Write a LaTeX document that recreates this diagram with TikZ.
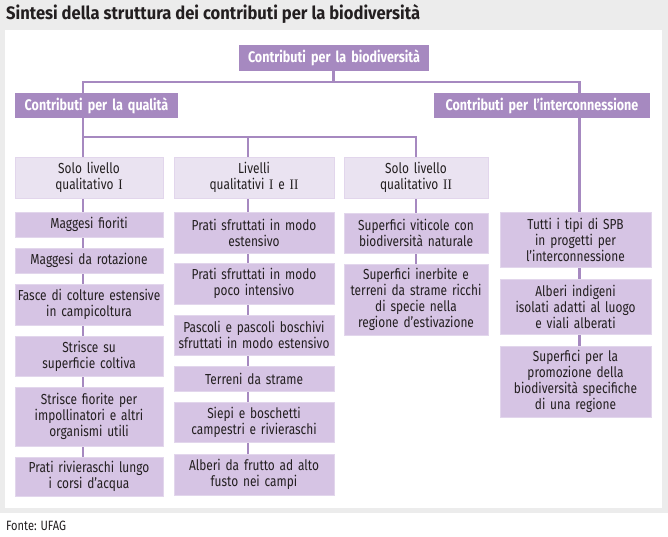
\documentclass[tikz,border=0pt]{standalone}
\usepackage{fontspec}
\setmainfont{Fira Sans}[FakeStretch=0.82]
\newfontfamily\titlefont{Fira Sans}[FakeStretch=0.92]
\newfontfamily\romnum{Liberation Serif}[FakeStretch=0.9]
\usetikzlibrary{positioning}
\definecolor{bggray}{HTML}{ECECEC}
\definecolor{dark}{HTML}{A689C0}
\definecolor{itemc}{HTML}{D6C4E4}
\definecolor{itemb}{HTML}{E2D6EC}
\definecolor{headc}{HTML}{EAE3F1}
\definecolor{txt}{HTML}{231F20}
\pgfdeclarelayer{back}
\pgfdeclarelayer{links}
\pgfsetlayers{back,links,main}
\newcommand\rn[1]{{\romnum #1}}
\newcommand\bx[7]{%
  \pgfmathsetmacro\bxc{(#3+#4)/2}%
  \pgfmathsetmacro\bxw{#4-#3}%
  \pgfmathsetmacro\bxh{#6-#5}%
  \pgfmathsetmacro\bxt{#4-#3-4}%
  \node[#1, anchor=north, minimum width=\bxw pt, minimum height=\bxh pt, text width=\bxt pt] (#2) at (\bxc,#5) {#7};%
}
\tikzset{
  boxbase/.style={rectangle, inner xsep=2pt, inner ysep=0pt, align=center, outer sep=0pt},
  mainbox/.style={boxbase, fill=dark, text=white, font=\fontsize{15.3}{17}\selectfont\bfseries},
  headbox/.style={boxbase, fill=headc, draw=itemb, line width=0.6pt, text=txt, font=\fontsize{14.5}{16}\selectfont},
  itembox/.style={boxbase, fill=itemc, draw=itemb, line width=0.6pt, text=txt, font=\fontsize{14.5}{16}\selectfont},
  conn/.style={draw=dark, line width=2.3pt},
}
\begin{document}
\begin{tikzpicture}[x=1pt,y=-1pt]
\useasboundingbox (0,0) rectangle (668,536);
\begin{pgfonlayer}{back}
  \fill[bggray] (0,0) rectangle (668,513);
  \fill[white] (5,30) rectangle (662,508);
\end{pgfonlayer}
\node[anchor=base west, inner sep=0pt, text=txt, font=\titlefont\fontsize{18}{20}\selectfont\bfseries] (title) at (6,19) {Sintesi della struttura dei contributi per la biodiversità};
\node[anchor=base west, inner sep=0pt, text=txt, font=\fontsize{13.5}{15}\selectfont] (src) at (6,530) {Fonte: UFAG};

% level 1 and 2
\bx{mainbox}{top}{239}{429}{45}{71}{Contributi per la biodiversità}
\bx{mainbox}{q}{15}{178}{93}{118}{Contributi per la qualità}
\bx{mainbox}{ic}{434}{650}{93}{118}{Contributi per l’interconnessione}

% column headers
\bx{headbox}{h1}{15}{163}{157}{198}{Solo livello\\qualitativo \rn{I}}
\bx{headbox}{h2}{174}{334}{157}{198}{Livelli\\qualitativi \rn{I} e \rn{II}}
\bx{headbox}{h3}{344}{488}{157}{198}{Solo livello\\qualitativo \rn{II}}

% column 1
\bx{itembox}{a1}{15}{163}{212}{237}{Maggesi fioriti}
\bx{itembox}{a2}{15}{163}{248}{273}{Maggesi da rotazione}
\bx{itembox}{a3}{15}{163}{284}{325}{Fasce di colture estensive\\in campicoltura}
\bx{itembox}{a4}{15}{163}{336}{376}{Strisce su\\superficie coltiva}
\bx{itembox}{a5}{15}{163}{387}{446}{Strisce fiorite per\\impollinatori e altri\\organismi utili}
\bx{itembox}{a6}{15}{163}{457}{496}{Prati rivieraschi lungo\\i corsi d’acqua}

% column 2
\bx{itembox}{b1}{174}{334}{212}{253}{Prati sfruttati in modo\\estensivo}
\bx{itembox}{b2}{174}{334}{263}{304}{Prati sfruttati in modo\\poco intensivo}
\bx{itembox}{b3}{174}{334}{315}{355}{Pascoli e pascoli boschivi\\sfruttati in modo estensivo}
\bx{itembox}{b4}{174}{334}{366}{391}{Terreni da strame}
\bx{itembox}{b5}{174}{334}{402}{442}{Siepi e boschetti\\campestri e rivieraschi}
\bx{itembox}{b6}{174}{334}{454}{495}{Alberi da frutto ad alto\\fusto nei campi}

% column 3
\bx{itembox}{c1}{344}{488}{213}{253}{Superfici viticole con\\biodiversità naturale}
\bx{itembox}{c2}{344}{488}{264}{335}{Superfici inerbite e\\terreni da strame ricchi\\di specie nella\\regione d’estivazione}

% column 4
\bx{itembox}{d1}{500}{651}{212}{267}{Tutti i tipi di SPB\\in progetti per\\l’interconnessione}
\bx{itembox}{d2}{500}{651}{279}{334}{Alberi indigeni\\isolati adatti al luogo\\e viali alberati}
\bx{itembox}{d3}{500}{651}{346}{417}{Superfici per la\\promozione della\\biodiversità specifiche\\di una regione}

% connector columns
\coordinate (xq) at (83,0);
\coordinate (x2) at (248,0);
\coordinate (x3) at (416,0);
\coordinate (xi) at (579.5,0);
\coordinate (j1) at (333.5,82);
\coordinate (j2) at (83,137);

\begin{pgfonlayer}{links}
  \draw[conn] (top.south -| j1) -- (j1);
  \draw[conn] (q.north -| xq) |- (j1) -| (ic.north -| xi);
  \draw[conn] (q.south -| xq) -- (h1.north -| xq);
  \draw[conn] (j2) -| (h2.north -| x2);
  \draw[conn] (j2) -| (h3.north -| x3);
  \draw[conn] (ic.south -| xi) -- (d1.north -| xi);
  \draw[conn] (h1.south -| xq) -- (a1.north -| xq);
  \draw[conn] (a1.south -| xq) -- (a2.north -| xq);
  \draw[conn] (a2.south -| xq) -- (a3.north -| xq);
  \draw[conn] (a3.south -| xq) -- (a4.north -| xq);
  \draw[conn] (a4.south -| xq) -- (a5.north -| xq);
  \draw[conn] (a5.south -| xq) -- (a6.north -| xq);
  \draw[conn] (h2.south -| x2) -- (b1.north -| x2);
  \draw[conn] (b1.south -| x2) -- (b2.north -| x2);
  \draw[conn] (b2.south -| x2) -- (b3.north -| x2);
  \draw[conn] (b3.south -| x2) -- (b4.north -| x2);
  \draw[conn] (b4.south -| x2) -- (b5.north -| x2);
  \draw[conn] (b5.south -| x2) -- (b6.north -| x2);
  \draw[conn] (h3.south -| x3) -- (c1.north -| x3);
  \draw[conn] (c1.south -| x3) -- (c2.north -| x3);
  \draw[conn] (d1.south -| xi) -- (d2.north -| xi);
  \draw[conn] (d2.south -| xi) -- (d3.north -| xi);
\end{pgfonlayer}
\end{tikzpicture}
\end{document}
